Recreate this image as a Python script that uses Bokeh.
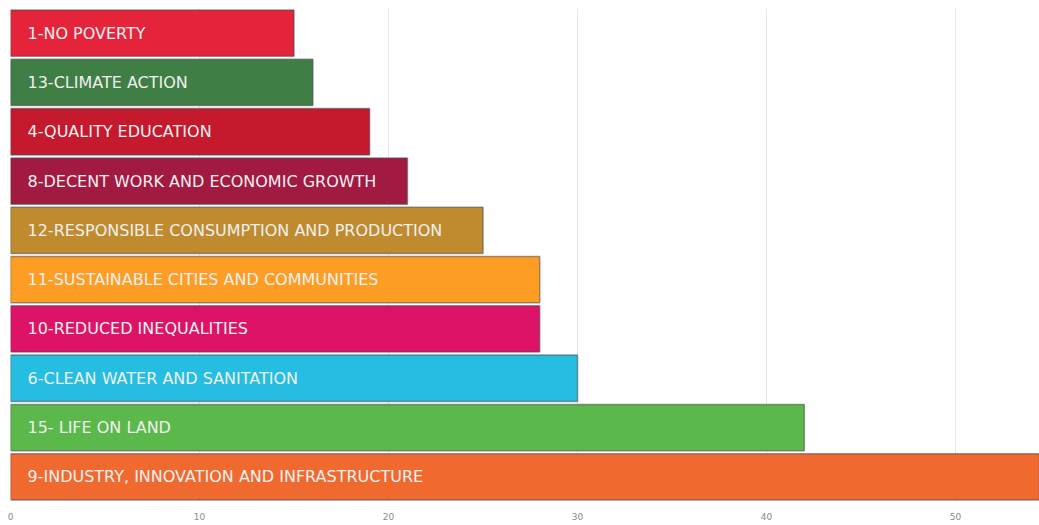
from bokeh.plotting import figure
from bokeh.models import FactorRange, Range1d, ColumnDataSource
from bokeh.core.properties import value
from bokeh.embed import file_html
from bokeh.resources import INLINE

goals = [
    "1-NO POVERTY",
    "13-CLIMATE ACTION",
    "4-QUALITY EDUCATION",
    "8-DECENT WORK AND ECONOMIC GROWTH",
    "12-RESPONSIBLE CONSUMPTION AND PRODUCTION",
    "11-SUSTAINABLE CITIES AND COMMUNITIES",
    "10-REDUCED INEQUALITIES",
    "6-CLEAN WATER AND SANITATION",
    "15- LIFE ON LAND",
    "9-INDUSTRY, INNOVATION AND INFRASTRUCTURE",
]
counts = [15, 16, 19, 21, 25, 28, 28, 30, 42, 55]
colors = ["#E5243B", "#3F7E44", "#C5192D", "#A21942", "#BF8B2E",
          "#FD9D24", "#DD1367", "#26BDE2", "#5BB84B", "#F06A30"]
tick_values = [0, 10, 20, 30, 40, 50]

src = ColumnDataSource(dict(goal=goals, count=counts, color=colors, zero=[0] * len(goals)))

p = figure(
    width=1039, height=525,
    y_range=FactorRange(*reversed(goals), range_padding=0),
    x_range=Range1d(0, 54.44),
    output_backend="svg", toolbar_location=None,
    min_border_left=10, min_border_right=0, min_border_top=8, min_border_bottom=24,
)
p.outline_line_color = None
p.background_fill_color = "white"
p.border_fill_color = "white"

p.hbar(y="goal", right="count", left=0, height=0.94, source=src,
       fill_color="color", line_color="#4a4a4a", line_alpha=0.55, line_width=1.5)

p.text(x="zero", y="goal", text="goal", source=src, x_offset=17,
       text_baseline="middle", text_align="left", text_color="#f0f0f0",
       text_font=value("DejaVu Sans"), text_font_size="16px")

p.yaxis.visible = False
p.ygrid.grid_line_color = None
p.xgrid.grid_line_color = "#e6e6e6"
p.xgrid.ticker = tick_values
p.xaxis.ticker = tick_values
p.xaxis.axis_line_color = None
p.xaxis.major_tick_line_color = None
p.xaxis.minor_tick_line_color = None
p.xaxis.major_tick_out = 0
p.xaxis.major_label_standoff = 11
p.xaxis.major_label_text_color = "#8a8a8a"
p.xaxis.major_label_text_font = "DejaVu Sans"
p.xaxis.major_label_text_font_size = "9px"

open("out.html", "w").write(file_html(p, INLINE))
